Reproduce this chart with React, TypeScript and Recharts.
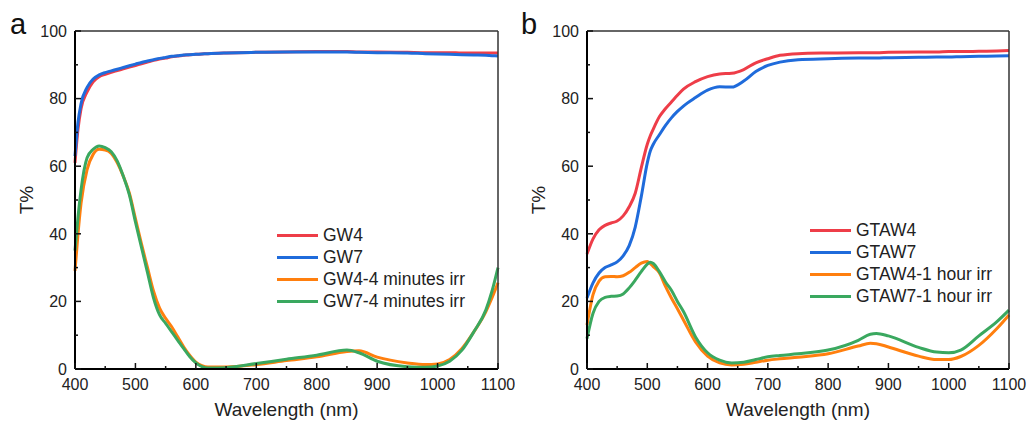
import { LineChart, Line, XAxis, YAxis, Legend, Label } from "recharts";

// ---- panel a ----
const wlA = [400, 405, 410, 420, 430, 440, 450, 460, 470, 480, 490, 500, 510, 520, 530, 540, 550, 560, 570, 580, 590, 600, 610, 620, 650, 700, 750, 800, 850, 870, 900, 950, 980, 1000, 1020, 1040, 1060, 1080, 1090, 1100];
const gw4 = [61, 71, 77, 82, 85, 86.5, 87.2, 87.8, 88.3, 88.8, 89.3, 89.8, 90.3, 90.8, 91.3, 91.7, 92, 92.4, 92.6, 92.8, 93, 93.1, 93.2, 93.3, 93.5, 93.7, 93.8, 93.9, 93.9, 93.8, 93.8, 93.7, 93.6, 93.6, 93.6, 93.5, 93.5, 93.5, 93.5, 93.5];
const gw7 = [63, 73, 78.5, 83.3, 85.8, 87, 87.7, 88.2, 88.7, 89.2, 89.7, 90.2, 90.7, 91.1, 91.5, 91.9, 92.2, 92.5, 92.7, 92.9, 93, 93.1, 93.2, 93.3, 93.5, 93.7, 93.8, 93.8, 93.8, 93.7, 93.6, 93.5, 93.3, 93.2, 93.1, 93, 92.9, 92.8, 92.7, 92.6];
const gw4Irr = [29, 40, 49, 59, 63.5, 65, 64.8, 63.8, 61, 57, 52, 44.5, 37, 30, 23, 18, 15, 12.5, 9.5, 6.5, 4, 2, 1, 0.6, 0.6, 1.3, 2.5, 3.6, 5.2, 5.4, 3.5, 1.8, 1.3, 1.5, 2.8, 6, 11, 17, 21, 25.5];
const gw7Irr = [35, 45, 53, 62.5, 65, 66, 65.5, 64.3, 61.5, 57, 51.5, 43.5, 36, 28.5, 21, 16, 13.5, 11, 8.5, 6, 3.6, 1.8, 0.7, 0.3, 0.4, 1.6, 2.9, 4.1, 5.6, 4.8, 2.3, 0.7, 0.5, 0.9, 2.3, 5.5, 11, 17.5, 23, 30];

// ---- panel b ----
const wlB = [400, 410, 420, 430, 440, 450, 460, 470, 480, 490, 500, 505, 510, 520, 530, 540, 550, 560, 580, 600, 620, 640, 660, 680, 700, 720, 750, 800, 850, 870, 880, 900, 950, 980, 1000, 1020, 1050, 1080, 1100];
const gtaw4 = [34, 38.5, 41.2, 42.5, 43.2, 43.8, 45.3, 48, 52, 59.5, 66.5, 69, 71, 74.6, 77, 79, 81, 82.8, 85, 86.5, 87.3, 87.5, 88.6, 90.6, 91.8, 92.8, 93.3, 93.5, 93.6, 93.6, 93.6, 93.7, 93.8, 93.8, 93.9, 93.9, 94, 94.1, 94.2];
const gtaw7 = [21, 25.5, 28.4, 30, 30.8, 31.7, 33.5, 36.5, 42, 51, 61, 64.5, 66.5, 69.3, 72, 74.3, 76.2, 77.8, 80.3, 82.5, 83.5, 83.4, 85.2, 88, 89.8, 90.8, 91.5, 91.8, 92, 92, 92, 92.1, 92.2, 92.3, 92.3, 92.4, 92.5, 92.6, 92.7];
const gtaw4Irr = [13, 22, 26, 27.3, 27.4, 27.3, 27.6, 28.6, 30, 31.3, 31.8, 31.2, 30.3, 28.5, 24.5, 21, 17.8, 14.5, 8, 3.8, 1.8, 1.2, 1.4, 2, 2.6, 3, 3.5, 4.5, 6.8, 7.6, 7.5, 6.5, 3.8, 2.8, 2.8, 3.7, 7, 12, 16];
const gtaw7Irr = [9, 16.5, 20, 21.2, 21.5, 21.6, 22.2, 24, 26.3, 28.8, 31, 31.6, 31.2, 28.8, 25.8, 23.3, 20, 17, 9.5, 4.8, 2.6, 1.8, 2, 2.8, 3.6, 4, 4.5, 5.6, 8.5, 10.3, 10.5, 9.8, 6.4, 5, 4.8, 5.6, 9.8, 14, 17.4];

// ---- axes ----
const xTicks = [400, 450, 500, 550, 600, 650, 700, 750, 800, 850, 900, 950, 1000, 1050, 1100];
const xMajor = [400, 500, 600, 700, 800, 900, 1000, 1100];
const yTicks = [0, 10, 20, 30, 40, 50, 60, 70, 80, 90, 100];
const yMajor = [0, 20, 40, 60, 80, 100];

const seriesA = ["GW4", "GW7", "GW4-4 minutes irr", "GW7-4 minutes irr"];
const seriesB = ["GTAW4", "GTAW7", "GTAW4-1 hour irr", "GTAW7-1 hour irr"];
const colors = ["#ee3d48", "#1f6bdb", "#ff7f0e", "#3aa85f"];

const FONT = "'Liberation Sans', Arial, sans-serif";
const W = 515;
const H = 423;
const Y_AXIS_W = 60;
const X_AXIS_H = 50;

const dataA = wlA.map((w, i) => ({ w, s0: gw4[i], s1: gw7[i], s2: gw4Irr[i], s3: gw7Irr[i] }));
const dataB = wlB.map((w, i) => ({ w, s0: gtaw4[i], s1: gtaw7[i], s2: gtaw4Irr[i], s3: gtaw7Irr[i] }));

function XTick(props: any) {
  const { x, y, payload } = props;
  const major = xMajor.includes(payload.value);
  return (
    <g>
      <line x1={x} x2={x} y1={y} y2={y - (major ? 6 : 3)} stroke="#111" strokeWidth={1.5} />
      {major && (
        <text x={x} y={y + 21} textAnchor="middle" fontSize={16} fill="#222" fontFamily={FONT}>
          {payload.value}
        </text>
      )}
    </g>
  );
}

function YTick(props: any) {
  const { x, y, payload } = props;
  const major = yMajor.includes(payload.value);
  return (
    <g>
      <line x1={x} x2={x + (major ? 6 : 3)} y1={y} y2={y} stroke="#111" strokeWidth={1.5} />
      {major && (
        <text x={x - 8} y={y + 5.7} textAnchor="end" fontSize={16} fill="#222" fontFamily={FONT}>
          {payload.value}
        </text>
      )}
    </g>
  );
}

function makeLegend(names: string[]) {
  return () => (
    <div style={{ fontFamily: FONT, fontSize: 17.5, color: "#222" }}>
      {names.map((n, i) => (
        <div key={n} style={{ display: "flex", alignItems: "center", height: 22, whiteSpace: "nowrap" }}>
          <div style={{ width: 41, height: 3, background: colors[i], marginRight: 5 }} />
          <span>{n}</span>
        </div>
      ))}
    </div>
  );
}

function Panel({ data, names, letter, left, plotLeft, plotRight, legendPos }: any) {
  const margin = { top: 30, left: plotLeft - Y_AXIS_W, right: W - plotRight - 1, bottom: H - 369 - X_AXIS_H };
  return (
    <div style={{ position: "absolute", left, top: 0, width: W, height: H }}>
      <LineChart width={W} height={H} data={data} margin={margin}>
        <XAxis
          dataKey="w"
          type="number"
          domain={[400, 1100]}
          ticks={xTicks}
          interval={0}
          height={X_AXIS_H}
          tickSize={0}
          tickMargin={0}
          tickLine={false}
          tick={<XTick />}
          axisLine={{ stroke: "#000", strokeWidth: 2 }}
        >
          <Label
            content={({ viewBox }: any) => (
              <text x={viewBox.x + viewBox.width / 2} y={viewBox.y + 47} textAnchor="middle" fontSize={19} fill="#222" fontFamily={FONT}>
                Wavelength (nm)
              </text>
            )}
          />
        </XAxis>
        <XAxis xAxisId="top" orientation="top" type="number" dataKey="w" domain={[400, 1100]} height={1} tick={false} tickLine={false} axisLine={{ stroke: "#333", strokeWidth: 1.5 }} />
        <YAxis
          type="number"
          domain={[0, 100]}
          ticks={yTicks}
          interval={0}
          width={Y_AXIS_W}
          tickSize={0}
          tickMargin={0}
          tickLine={false}
          tick={<YTick />}
          axisLine={{ stroke: "#000", strokeWidth: 2 }}
        >
          <Label
            content={({ viewBox }: any) => {
              const cx = viewBox.x + viewBox.width - 49;
              const cy = viewBox.y + viewBox.height / 2;
              return (
                <text x={cx} y={cy} transform={`rotate(-90 ${cx} ${cy})`} textAnchor="middle" dominantBaseline="central" fontSize={19} fill="#222" fontFamily={FONT}>
                  T%
                </text>
              );
            }}
          />
        </YAxis>
        <YAxis yAxisId="right" orientation="right" domain={[0, 100]} width={1} tick={false} tickLine={false} axisLine={{ stroke: "#333", strokeWidth: 1.5 }} />
        <Legend
          layout="vertical"
          align="center"
          verticalAlign="middle"
          content={makeLegend(names)}
          wrapperStyle={{ left: legendPos[0], top: legendPos[1], width: "auto" }}
        />
        {names.map((n: string, i: number) => (
          <Line
            key={n}
            name={n}
            dataKey={`s${i}`}
            type="monotone"
            stroke={colors[i]}
            strokeWidth={3}
            dot={false}
            isAnimationActive={false}
          />
        ))}
      </LineChart>
      <div style={{ position: "absolute", left: letter === "a" ? 10 : 6, top: 8, fontFamily: FONT, fontSize: 29, color: "#111" }}>{letter}</div>
    </div>
  );
}

export default function App() {
  return (
    <div style={{ position: "absolute", left: 0, top: 0, width: 1030, height: H, background: "#fff" }}>
      <Panel data={dataA} names={seriesA} letter="a" left={0} plotLeft={75} plotRight={498} legendPos={[277, 224]} />
      <Panel data={dataB} names={seriesB} letter="b" left={515} plotLeft={72} plotRight={494} legendPos={[295, 219]} />
    </div>
  );
}
